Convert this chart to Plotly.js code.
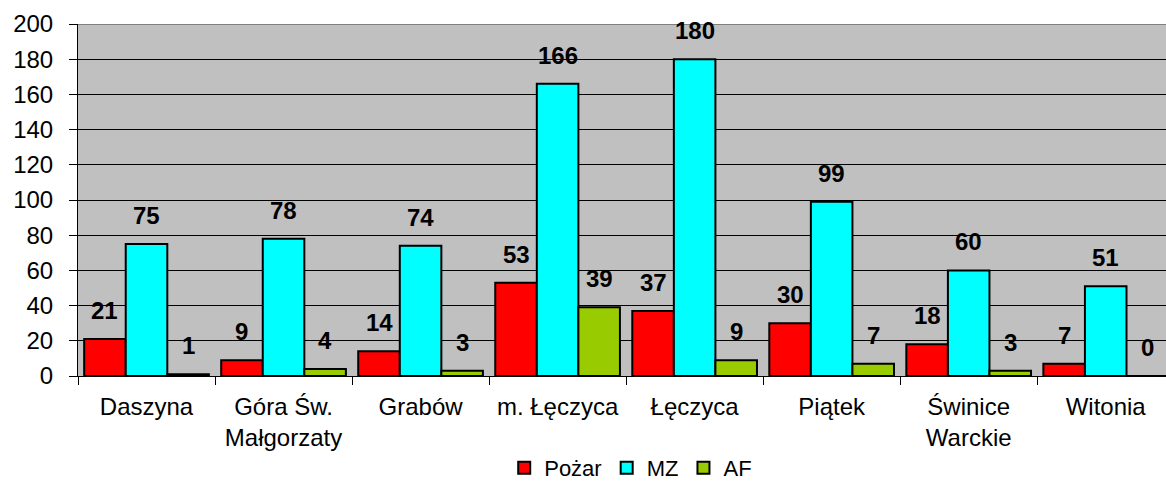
<!DOCTYPE html>
<html>
<head>
<meta charset="utf-8">
<script src="https://cdn.plot.ly/plotly-3.0.1.min.js"></script>
<style>html,body{margin:0;padding:0;background:#fff;}#chart{width:1166px;height:487px;}</style>
</head>
<body>
<div id="chart"></div>
<script>
const categories = ["Daszyna", "Góra Św.<br>Małgorzaty", "Grabów", "m. Łęczyca", "Łęczyca", "Piątek", "Świnice<br>Warckie", "Witonia"];
const seriesNames = ["Pożar", "MZ", "AF"];
const pozar = [21, 9, 14, 53, 37, 30, 18, 7];
const mz = [75, 78, 74, 166, 180, 99, 60, 51];
const af = [1, 4, 3, 39, 9, 7, 3, 0];
const colors = ["#FF0000", "#00FFFF", "#99CC00"];
const yTicks = [0, 20, 40, 60, 80, 100, 120, 140, 160, 180, 200];

const series = [pozar, mz, af];
const FONT = "Liberation Sans, Arial, sans-serif";
const marginL = 78, marginR = 0, width = 1166;
const xRange = [-0.5, 7.44];
const bargap = 0.09;
const plotW = width - marginL - marginR;
const catPx = plotW / (xRange[1] - xRange[0]);
const barPx = catPx * (1 - bargap) / 3;

const traces = series.map((vals, i) => ({
  type: "bar",
  name: seriesNames[i],
  x: categories,
  y: vals,
  marker: {color: colors[i], line: {color: "#000", width: 2}},
  hoverinfo: "skip"
}));

const annotations = [];
series.forEach((vals, i) => {
  vals.forEach((v, j) => {
    annotations.push({
      x: categories[j], y: v, xref: "x", yref: "y",
      text: String(v), showarrow: false,
      xanchor: "center", yanchor: "bottom",
      xshift: (i - 1) * barPx, yshift: 13,
      font: {family: FONT, size: 24, color: "#000", weight: "bold"}
    });
  });
});

const layout = {
  width: 1166, height: 487,
  margin: {l: marginL, r: marginR, t: 24, b: 111, autoexpand: false},
  paper_bgcolor: "#fff",
  plot_bgcolor: "#C0C0C0",
  barmode: "group",
  bargap: bargap,
  bargroupgap: 0,
  showlegend: true,
  legend: {
    orientation: "h", xref: "paper", x: 0.508, xanchor: "center",
    yref: "container", y: 0.082, yanchor: "top",
    font: {family: FONT, size: 22, color: "#000"},
    itemwidth: 30, traceorder: "normal", bgcolor: "rgba(0,0,0,0)"
  },
  xaxis: {
    type: "category", range: xRange, fixedrange: true, automargin: false,
    showline: true, linecolor: "#000", linewidth: 1,
    ticks: "outside", tickson: "boundaries", ticklen: 8, tickcolor: "#000", tickwidth: 1,
    ticklabelstandoff: 9,
    tickfont: {family: FONT, size: 24, color: "#000"},
    showgrid: false
  },
  yaxis: {
    range: [0, 200], tickvals: yTicks, fixedrange: true, automargin: false,
    showline: true, linecolor: "#000", linewidth: 1,
    ticks: "outside", ticklen: 8, tickcolor: "#000", tickwidth: 1,
    ticklabelstandoff: 11,
    tickfont: {family: FONT, size: 24, color: "#000"},
    showgrid: true, gridcolor: "#000", gridwidth: 1,
    zeroline: false
  },
  annotations: annotations,
  shapes: [{type: "line", xref: "paper", yref: "y", x0: 0, x1: 1, y0: 200, y1: 200,
            line: {color: "#808080", width: 2}}]
};

Plotly.newPlot("chart", traces, layout, {displayModeBar: false, staticPlot: true});
</script>
</body>
</html>
